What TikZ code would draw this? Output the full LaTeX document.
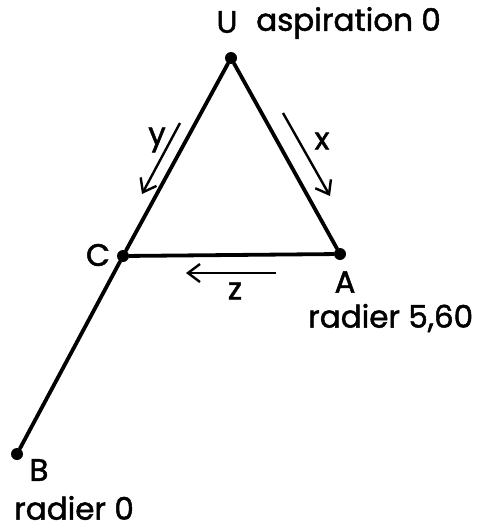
\documentclass[tikz,border=0pt]{standalone}
\usepackage{fontspec}
\setmainfont{Poppins}[FakeBold=1.6]
\usetikzlibrary{arrows.meta}
\begin{document}
\begin{tikzpicture}[x=1pt,y=-1pt,
  lbl/.style={inner sep=0pt,font=\fontsize{31}{34}\selectfont},
  pt/.style={circle,fill=black,inner sep=0pt,minimum size=12pt},
  edge/.style={line width=3.8pt,line cap=round},
  flow/.style={line width=2.4pt,-{Straight Barb[length=12pt,width=18pt,line width=2.4pt]}}]
\useasboundingbox (0,0) rectangle (491,530);
\node[pt] (U) at (231,58) {};
\node[pt] (A) at (340,254) {};
\node[pt] (C) at (123,256) {};
\node[pt] (B) at (17,454) {};
\draw[edge] (U) -- (A);
\draw[edge] (A) -- (C);
\draw[edge] (U) -- (C);
\draw[edge] (C) -- (B);
% labels
\node[lbl] (lU) at (227,22) {U};
\node[lbl,anchor=west] (lasp) at (256,23) {aspiration 0};
\node[lbl] (lC) at (98,255) {C};
\node[lbl] (lA) at (345,282) {A};
\node[lbl,anchor=west] (lrA) at (308,318) {radier 5,60};
\node[lbl] (lB) at (39,470) {B};
\node[lbl,anchor=west] (lrB) at (14,508) {radier 0};
\node[lbl] (ly) at (157,140) {y};
\node[lbl] (lx) at (322,141) {x};
\node[lbl] (lz) at (235,291) {z};
% flow arrows
\coordinate (ys) at (180,123); \coordinate (ye) at (142,194);
\coordinate (xs) at (283,113); \coordinate (xe) at (330,196);
\coordinate (zs) at (276,273); \coordinate (ze) at (186,273);
\draw[flow] (ys) -- (ye);
\draw[flow] (xs) -- (xe);
\draw[flow] (zs) -- (ze);
\end{tikzpicture}
\end{document}
